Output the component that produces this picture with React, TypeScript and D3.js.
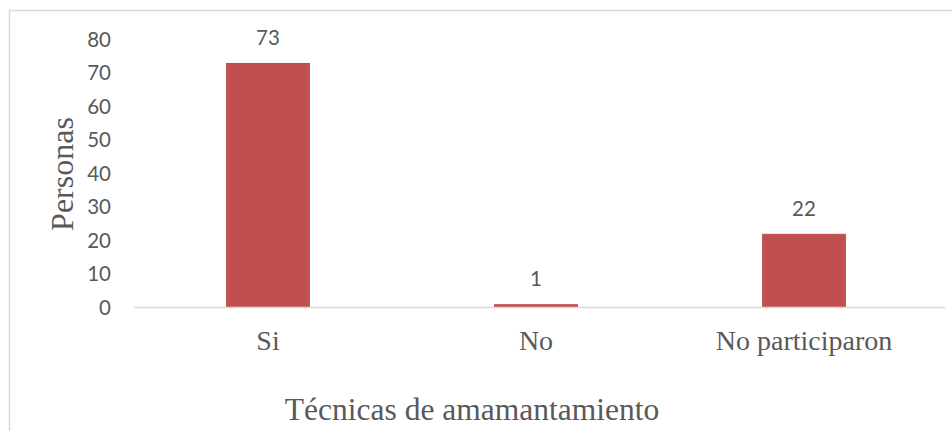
import React from "react";
import * as d3 from "d3";

const categories = ["Si", "No", "No participaron"];
const values = [73, 1, 22];
const yTicks = [0, 10, 20, 30, 40, 50, 60, 70, 80];
const yTitle = "Personas";
const xTitle = "Técnicas de amamantamiento";

export default function App() {
  const W = 952;
  const H = 431;
  const x = d3
    .scaleBand<string>()
    .domain(categories)
    .range([134, 938])
    .paddingInner(0.687)
    .paddingOuter(0.3435);
  const y = d3.scaleLinear().domain([0, 80]).range([307.5, 39.5]);
  const textColor = "#595959";
  const sans = "Lato, 'Open Sans', sans-serif";
  const serif = "'Liberation Serif', 'Times New Roman', serif";

  return (
    <div style={{ position: "absolute", left: 0, top: 0 }}>
      <svg width={W} height={H} style={{ display: "block", background: "#fff" }}>
        <rect x={9.5} y={10.5} width={960} height={440} fill="none" stroke="#D9D9D9" strokeWidth={1.5} />
        {yTicks.map((t) => (
          <text
            key={t}
            x={111}
            y={y(t)}
            dy="0.35em"
            textAnchor="end"
            fontFamily={sans}
            fontSize={20.5}
            fill={textColor}
          >
            {t}
          </text>
        ))}
        {categories.map((c, i) => (
          <g key={c}>
            <rect
              x={x(c)}
              y={y(values[i])}
              width={x.bandwidth()}
              height={y(0) - y(values[i])}
              fill="#C0504D"
            />
            <text
              x={(x(c) as number) + x.bandwidth() / 2}
              y={y(values[i]) - 18}
              textAnchor="middle"
              fontFamily={sans}
              fontSize={20.5}
              fill={textColor}
            >
              {values[i]}
            </text>
            <text
              x={(x(c) as number) + x.bandwidth() / 2}
              y={350}
              textAnchor="middle"
              fontFamily={serif}
              fontSize={28}
              fill={textColor}
            >
              {c}
            </text>
          </g>
        ))}
        <line x1={134} x2={945} y1={307.5} y2={307.5} stroke="#D9D9D9" strokeWidth={1.5} />
        <text
          transform={`translate(73,174) rotate(-90)`}
          textAnchor="middle"
          fontFamily={serif}
          fontSize={32}
          fill={textColor}
        >
          {yTitle}
        </text>
        <text x={472} y={420} textAnchor="middle" fontFamily={serif} fontSize={31.5} fill={textColor}>
          {xTitle}
        </text>
      </svg>
    </div>
  );
}
